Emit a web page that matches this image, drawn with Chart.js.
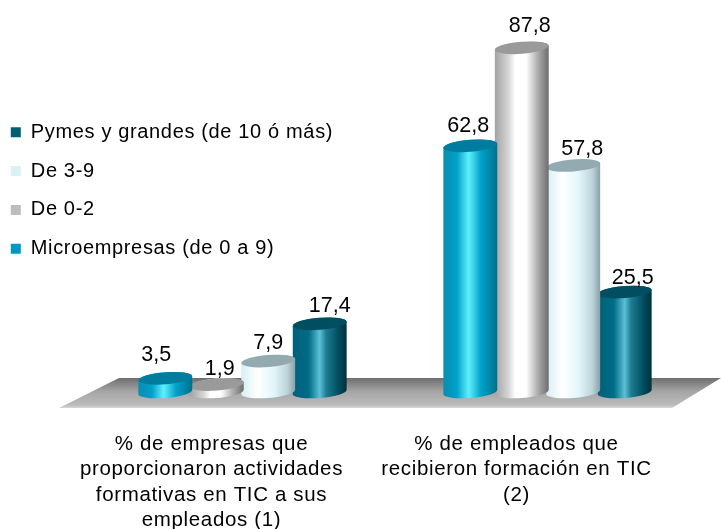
<!DOCTYPE html>
<html>
<head>
<meta charset="utf-8">
<style>
  html, body { margin: 0; padding: 0; background: #fff; }
  canvas { display: block; }
</style>
<script src="https://cdn.jsdelivr.net/npm/chart.js@4/dist/chart.umd.min.js"></script>
</head>
<body>
<canvas id="chart" width="721" height="529"></canvas>
<script>
const categories = [
  ['% de empresas que', 'proporcionaron actividades', 'formativas en TIC a sus', 'empleados (1)'],
  ['% de empleados que', 'recibieron formación en TIC', '(2)']
];
const seriesNames = ['Microempresas (de 0 a 9)', 'De 0-2', 'De 3-9', 'Pymes y grandes (de 10 ó más)'];
const microValues = [3.5, 62.8];
const deCeroDos = [1.9, 87.8];
const deTresNueve = [7.9, 57.8];
const pymesValues = [17.4, 25.5];

const legendColors = ['#0099c6', '#bdbdbd', '#daf0f5', '#005f75'];
const capColors = ['#007c9e', '#9a9a9a', '#93abb0', '#004e60'];
const bodyStops = [
  [[0, '#0a8db0'], [0.25, '#00a0c8'], [0.47, '#5ff0ff'], [0.7, '#00a0c8'], [1, '#00708e']],
  [[0, '#a2a2a2'], [0.25, '#d4d4d4'], [0.38, '#ffffff'], [0.58, '#ffffff'], [0.8, '#ababab'], [1, '#6c6c6c']],
  [[0, '#d6eef3'], [0.3, '#ffffff'], [0.6, '#e4f6fa'], [0.85, '#bcd4da'], [1, '#88a0a6']],
  [[0, '#00607a'], [0.3, '#006c86'], [0.5, '#5cc0d6'], [0.62, '#1c7c92'], [0.85, '#004c5e'], [1, '#00303c']]
];
// value labels sit a little off the bar centre because of the 3D view
const labelShift = [
  [[-9, -23], [-2, -20]],
  [[3, -15], [8, -22]],
  [[0, -18], [9, -16]],
  [[10, -18], [8, -14]]
];

const CAP_RY = 6;
const TILT = -0.08;
const TEXT_SPACING = '0.65px';

const cylinderPlugin = {
  id: 'cylinders',
  beforeUpdate(chart) {
    chart.ctx.letterSpacing = TEXT_SPACING;
  },
  afterLayout(chart) {
    // float the legend over the plot, left of the tall bars
    const legend = chart.legend;
    const w = legend.width, h = legend.height;
    legend.left = -8;
    legend.top = 103.5;
    legend.right = legend.left + w;
    legend.bottom = legend.top + h;
  },
  beforeDraw(chart) {
    chart.ctx.letterSpacing = TEXT_SPACING;
  },
  beforeDatasetsDraw(chart) {
    const { ctx, scales } = chart;
    const y0 = scales.y.getPixelForValue(0);
    const left = scales.x.left;
    const right = scales.x.right;
    const top = y0 - 14, bottom = y0 + 16;
    const grad = ctx.createLinearGradient(0, top, 0, bottom);
    grad.addColorStop(0, '#6f6f6f');
    grad.addColorStop(0.45, '#a5a5a5');
    grad.addColorStop(0.9, '#bcbcbc');
    grad.addColorStop(1, '#d8d8d8');
    ctx.save();
    ctx.fillStyle = grad;
    ctx.beginPath();
    ctx.moveTo(left + 29, top);
    ctx.lineTo(right + 21, top);
    ctx.lineTo(right - 28, bottom);
    ctx.lineTo(left - 31, bottom);
    ctx.closePath();
    ctx.fill();
    ctx.restore();
  },
  beforeDatasetDraw(chart, args) {
    const { ctx } = chart;
    const i = args.index;
    args.meta.data.forEach(bar => {
      const { x, y, base, width } = bar.getProps(['x', 'y', 'base', 'width'], true);
      const rx = width / 2;
      const grad = ctx.createLinearGradient(x - rx, 0, x + rx, 0);
      bodyStops[i].forEach(s => grad.addColorStop(s[0], s[1]));
      ctx.save();
      ctx.fillStyle = grad;
      ctx.beginPath();
      ctx.ellipse(x, base, rx, CAP_RY, TILT, Math.PI, 0, true);
      ctx.ellipse(x, y, rx, CAP_RY, TILT, 0, Math.PI, true);
      ctx.closePath();
      ctx.fill();
      ctx.fillStyle = capColors[i];
      ctx.beginPath();
      ctx.ellipse(x, y, rx, CAP_RY, TILT, 0, Math.PI * 2);
      ctx.fill();
      ctx.restore();
    });
    return false;
  },
  afterDatasetsDraw(chart) {
    const { ctx } = chart;
    ctx.save();
    ctx.letterSpacing = '0px';
    ctx.font = '21.5px "Liberation Sans"';
    ctx.fillStyle = '#000';
    ctx.textAlign = 'center';
    ctx.textBaseline = 'middle';
    chart.data.datasets.forEach((ds, i) => {
      chart.getDatasetMeta(i).data.forEach((bar, j) => {
        const text = String(ds.data[j]).replace('.', ',');
        ctx.fillText(text, bar.x + labelShift[i][j][0], bar.y + labelShift[i][j][1]);
      });
    });
    ctx.restore();
  }
};

const seriesData = [microValues, deCeroDos, deTresNueve, pymesValues];

new Chart(document.getElementById('chart'), {
  type: 'bar',
  data: {
    labels: categories,
    datasets: seriesNames.map((name, i) => ({
      label: name,
      data: seriesData[i],
      backgroundColor: legendColors[i],
      borderWidth: 0,
      categoryPercentage: 0.675,
      barPercentage: 1.05
    }))
  },
  options: {
    responsive: false,
    animation: false,
    layout: { padding: { left: 90, right: 21, top: 0, bottom: 0 } },
    plugins: {
      tooltip: { enabled: false },
      title: { display: false },
      legend: {
        position: 'chartArea',
        align: 'start',
        reverse: true,
        labels: {
          boxWidth: 10,
          boxHeight: 10,
          padding: 18.8,
          color: '#000',
          font: { family: '"Liberation Sans"', size: 20 }
        }
      }
    },
    scales: {
      x: {
        grid: { display: false },
        border: { display: false },
        afterFit(axis) {
          axis.height = 137;
        },
        ticks: {
          color: '#000',
          autoSkip: false,
          maxRotation: 0,
          padding: 31.5,
          labelOffset: -31,
          font: { family: '"Liberation Sans"', size: 20.5, lineHeight: 1.24 }
        }
      },
      y: { display: false, min: 0, max: 100 }
    }
  },
  plugins: [cylinderPlugin]
});
</script>
</body>
</html>
